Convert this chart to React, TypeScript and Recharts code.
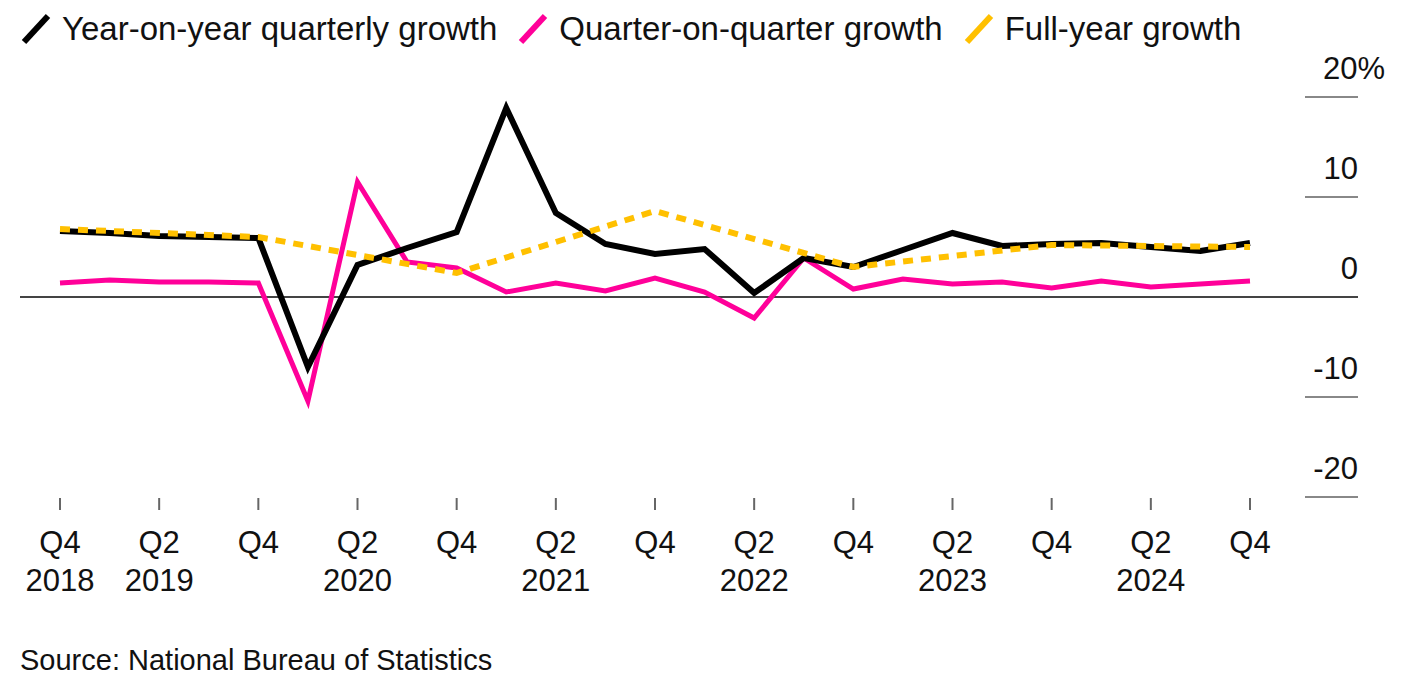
import React from "react";
import { LineChart, Line, XAxis, YAxis, ReferenceLine } from "recharts";

const quarters = [
  "Q4 2018", "Q1 2019", "Q2 2019", "Q3 2019", "Q4 2019",
  "Q1 2020", "Q2 2020", "Q3 2020", "Q4 2020",
  "Q1 2021", "Q2 2021", "Q3 2021", "Q4 2021",
  "Q1 2022", "Q2 2022", "Q3 2022", "Q4 2022",
  "Q1 2023", "Q2 2023", "Q3 2023", "Q4 2023",
  "Q1 2024", "Q2 2024", "Q3 2024", "Q4 2024",
];

const yoyGrowth = [
  6.6, 6.4, 6.1, 6.0, 5.9,
  -7.0, 3.2, 4.9, 6.5,
  18.9, 8.4, 5.3, 4.3,
  4.8, 0.4, 3.9, 3.0,
  4.7, 6.4, 5.1, 5.3,
  5.4, 5.0, 4.6, 5.4,
];

const qoqGrowth = [
  1.4, 1.7, 1.5, 1.5, 1.4,
  -10.4, 11.5, 3.5, 2.9,
  0.5, 1.4, 0.6, 1.9,
  0.5, -2.1, 3.9, 0.8,
  1.8, 1.3, 1.5, 0.9,
  1.6, 1.0, 1.3, 1.6,
];

// annual figures, shown at Q4 of each year
const fullYearGrowth: (number | null)[] = [
  6.8, null, null, null, 6.0,
  null, null, null, 2.4,
  null, null, null, 8.6,
  null, null, null, 3.0,
  null, null, null, 5.2,
  null, null, null, 5.0,
];

const yTicks = [-20, -10, 0, 10, 20];

const legendItems = [
  { label: "Year-on-year quarterly growth", color: "#000000" },
  { label: "Quarter-on-quarter growth", color: "#ff0099" },
  { label: "Full-year growth", color: "#ffc000" },
];

const data = quarters.map((q, i) => ({
  q,
  yoy: yoyGrowth[i],
  qoq: qoqGrowth[i],
  fy: fullYearGrowth[i],
}));

const font = "'Liberation Sans', Arial, sans-serif";

// eslint-disable-next-line @typescript-eslint/no-explicit-any
const XTick = (props: any) => {
  const { x, y, payload, index } = props;
  const [qt, yr] = String(payload.value).split(" ");
  const showYear = index === 0 || qt === "Q2";
  return (
    <g>
      <line x1={x} x2={x} y1={y + 1} y2={y + 13} stroke="#666" strokeWidth={2} />
      <text x={x} y={y + 56} textAnchor="middle" fontSize={31} fill="#111" fontFamily={font}>
        {qt}
      </text>
      {showYear && (
        <text x={x} y={y + 94} textAnchor="middle" fontSize={31} fill="#111" fontFamily={font}>
          {yr}
        </text>
      )}
    </g>
  );
};

// eslint-disable-next-line @typescript-eslint/no-explicit-any
const YTick = (props: any) => {
  const { x, y, payload } = props;
  const label = payload.value === 20 ? "20%" : String(payload.value);
  return (
    <g>
      <line x1={x - 53} x2={x} y1={y} y2={y} stroke={payload.value === 0 ? "#444" : "#888"} strokeWidth={2} />
      <text
        x={payload.value === 20 ? x + 27 : x}
        y={y - 18}
        textAnchor="end"
        fontSize={31}
        fill="#111"
        fontFamily={font}
      >
        {label}
      </text>
    </g>
  );
};

const App = () => {
  return (
    <div style={{ position: "absolute", left: 0, top: 0, width: 1405, height: 682, background: "#fff", fontFamily: font }}>
      <div style={{ position: "absolute", left: 20, top: 10, display: "flex", alignItems: "center", fontSize: 33, color: "#111", whiteSpace: "nowrap" }}>
        {legendItems.map((item) => (
          <div key={item.label} style={{ display: "flex", alignItems: "center", marginRight: 20 }}>
            <svg width={32} height={32} style={{ marginRight: 10 }}>
              <line x1={4} y1={29} x2={28} y2={3} stroke={item.color} strokeWidth={6} />
            </svg>
            <span>{item.label}</span>
          </div>
        ))}
      </div>
      <LineChart
        width={1405}
        height={682}
        data={data}
        margin={{ top: 97, right: 7, left: 20, bottom: 85 }}
      >
        <XAxis
          dataKey="q"
          interval={1}
          axisLine={false}
          tickLine={false}
          tickSize={0}
          tickMargin={0}
          height={100}
          padding={{ left: 40, right: 108 }}
          tick={<XTick />}
        />
        <YAxis
          orientation="right"
          domain={[-20, 20]}
          ticks={yTicks}
          axisLine={false}
          tickLine={false}
          tickSize={0}
          tickMargin={0}
          width={40}
          tick={<YTick />}
        />
        <ReferenceLine y={0} stroke="#444" strokeWidth={2} />
        <Line
          dataKey="qoq"
          stroke="#ff0099"
          strokeWidth={5}
          dot={false}
          isAnimationActive={false}
        />
        <Line
          dataKey="yoy"
          stroke="#000000"
          strokeWidth={6}
          dot={false}
          isAnimationActive={false}
        />
        <Line
          dataKey="fy"
          stroke="#ffc000"
          strokeWidth={6}
          strokeDasharray="10 8"
          connectNulls
          dot={false}
          isAnimationActive={false}
        />
      </LineChart>
      <div style={{ position: "absolute", left: 20, top: 644, fontSize: 29, color: "#111" }}>
        Source: National Bureau of Statistics
      </div>
    </div>
  );
};

export default App;
